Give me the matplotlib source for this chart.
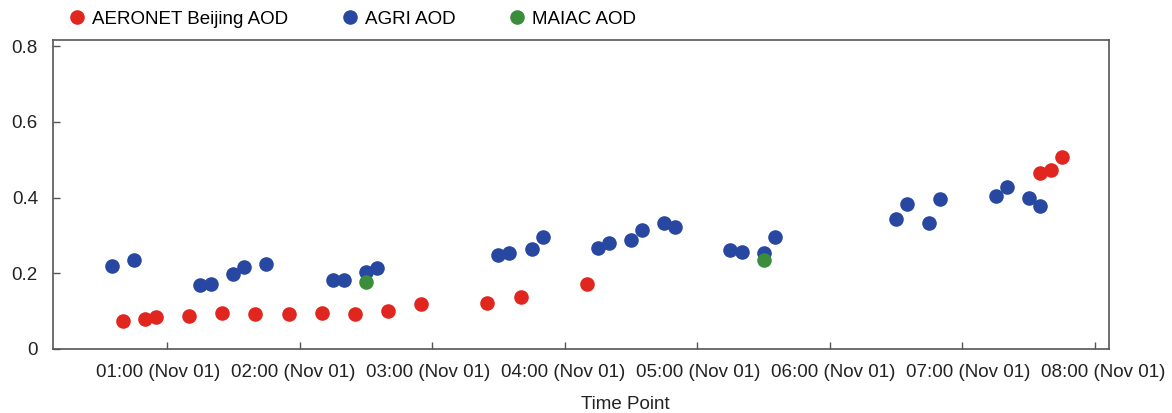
import numpy as np
import pandas as pd
import matplotlib
matplotlib.use("Agg")
import matplotlib.pyplot as plt
import matplotlib.dates as mdates
from matplotlib.transforms import ScaledTranslation

plt.rcParams['font.family'] = ['Liberation Sans', 'DejaVu Sans']

# AERONET Beijing AOD
aeronet_time = ["00:40", "00:50", "00:55", "01:10", "01:25", "01:40", "01:55", "02:10",
                "02:25", "02:40", "02:55", "03:25", "03:40", "04:10", "07:35", "07:40", "07:45"]
aeronet_aod = [0.075, 0.080, 0.084, 0.088, 0.095, 0.092, 0.092, 0.096,
               0.092, 0.101, 0.119, 0.121, 0.137, 0.172, 0.465, 0.474, 0.508]

# AGRI AOD
agri_time = ["00:35", "00:45", "01:15", "01:20", "01:30", "01:35", "01:45", "02:15", "02:20",
             "02:30", "02:35", "03:30", "03:35", "03:45", "03:50", "04:15", "04:20", "04:30",
             "04:35", "04:45", "04:50", "05:15", "05:20", "05:30", "05:35", "06:30", "06:35",
             "06:45", "06:50", "07:15", "07:20", "07:30", "07:35"]
agri_aod = [0.219, 0.235, 0.169, 0.172, 0.197, 0.217, 0.224, 0.182, 0.182,
            0.204, 0.215, 0.247, 0.253, 0.264, 0.295, 0.268, 0.279, 0.289,
            0.315, 0.334, 0.323, 0.261, 0.255, 0.253, 0.297, 0.343, 0.382,
            0.334, 0.396, 0.405, 0.428, 0.398, 0.377]

# MAIAC AOD
maiac_time = ["02:30", "05:30"]
maiac_aod = [0.176, 0.235]


def to_dt(times):
    return pd.to_datetime(["2020-11-01 " + t for t in times])


fig = plt.figure(figsize=(11.72, 4.13), dpi=100)
ax = fig.add_axes([0.0448, 0.155, 0.9015, 0.748])

ax.plot(to_dt(aeronet_time), aeronet_aod, 'o', color='#e1261f', markersize=10.5,
        markeredgewidth=0, label='AERONET Beijing AOD')
ax.plot(to_dt(agri_time), agri_aod, 'o', color='#2747a0', markersize=10.5,
        markeredgewidth=0, label='AGRI AOD')
ax.plot(to_dt(maiac_time), maiac_aod, 'o', color='#3b8d3c', markersize=10.5,
        markeredgewidth=0, label='MAIAC AOD')

ax.set_xlim(pd.Timestamp("2020-11-01 00:08:12"), pd.Timestamp("2020-11-01 08:06:20"))
ax.set_ylim(0, 0.816)
ax.set_yticks([0, 0.2, 0.4, 0.6, 0.8])
ax.set_yticklabels(['0', '0.2', '0.4', '0.6', '0.8'])
hour_ticks = pd.date_range("2020-11-01 01:00", "2020-11-01 08:00", freq="h")
ax.set_xticks(hour_ticks)
ax.xaxis.set_major_formatter(mdates.DateFormatter('%H:%M (%b %d)'))

ax.tick_params(direction='in', length=5, width=1, color='#555555', labelsize=13.5,
               labelcolor='#222222')
ax.tick_params(axis='x', pad=11)
ax.tick_params(axis='y', pad=10.5)
for s in ax.spines.values():
    s.set_color('#555555')
    s.set_linewidth(1.2)

# the labels in the original sit a little wider apart than the ticks
for i, tick in enumerate(ax.xaxis.get_major_ticks()):
    dx = (i - 3.5) * 2.4 / 100
    tick.label1.set_transform(tick.label1.get_transform()
                              + ScaledTranslation(dx, 0, fig.dpi_scale_trans))

ax.set_xlabel('Time Point', fontsize=13.5, color='#222222')
ax.xaxis.set_label_coords(0.542, -0.151)

ax.legend(loc='lower left', bbox_to_anchor=(0.006, 1.015), ncol=3, frameon=False,
          fontsize=13.5, handletextpad=0.25, columnspacing=2.75, borderaxespad=0,
          handlelength=1.1)

plt.savefig('out.png', dpi=100)
